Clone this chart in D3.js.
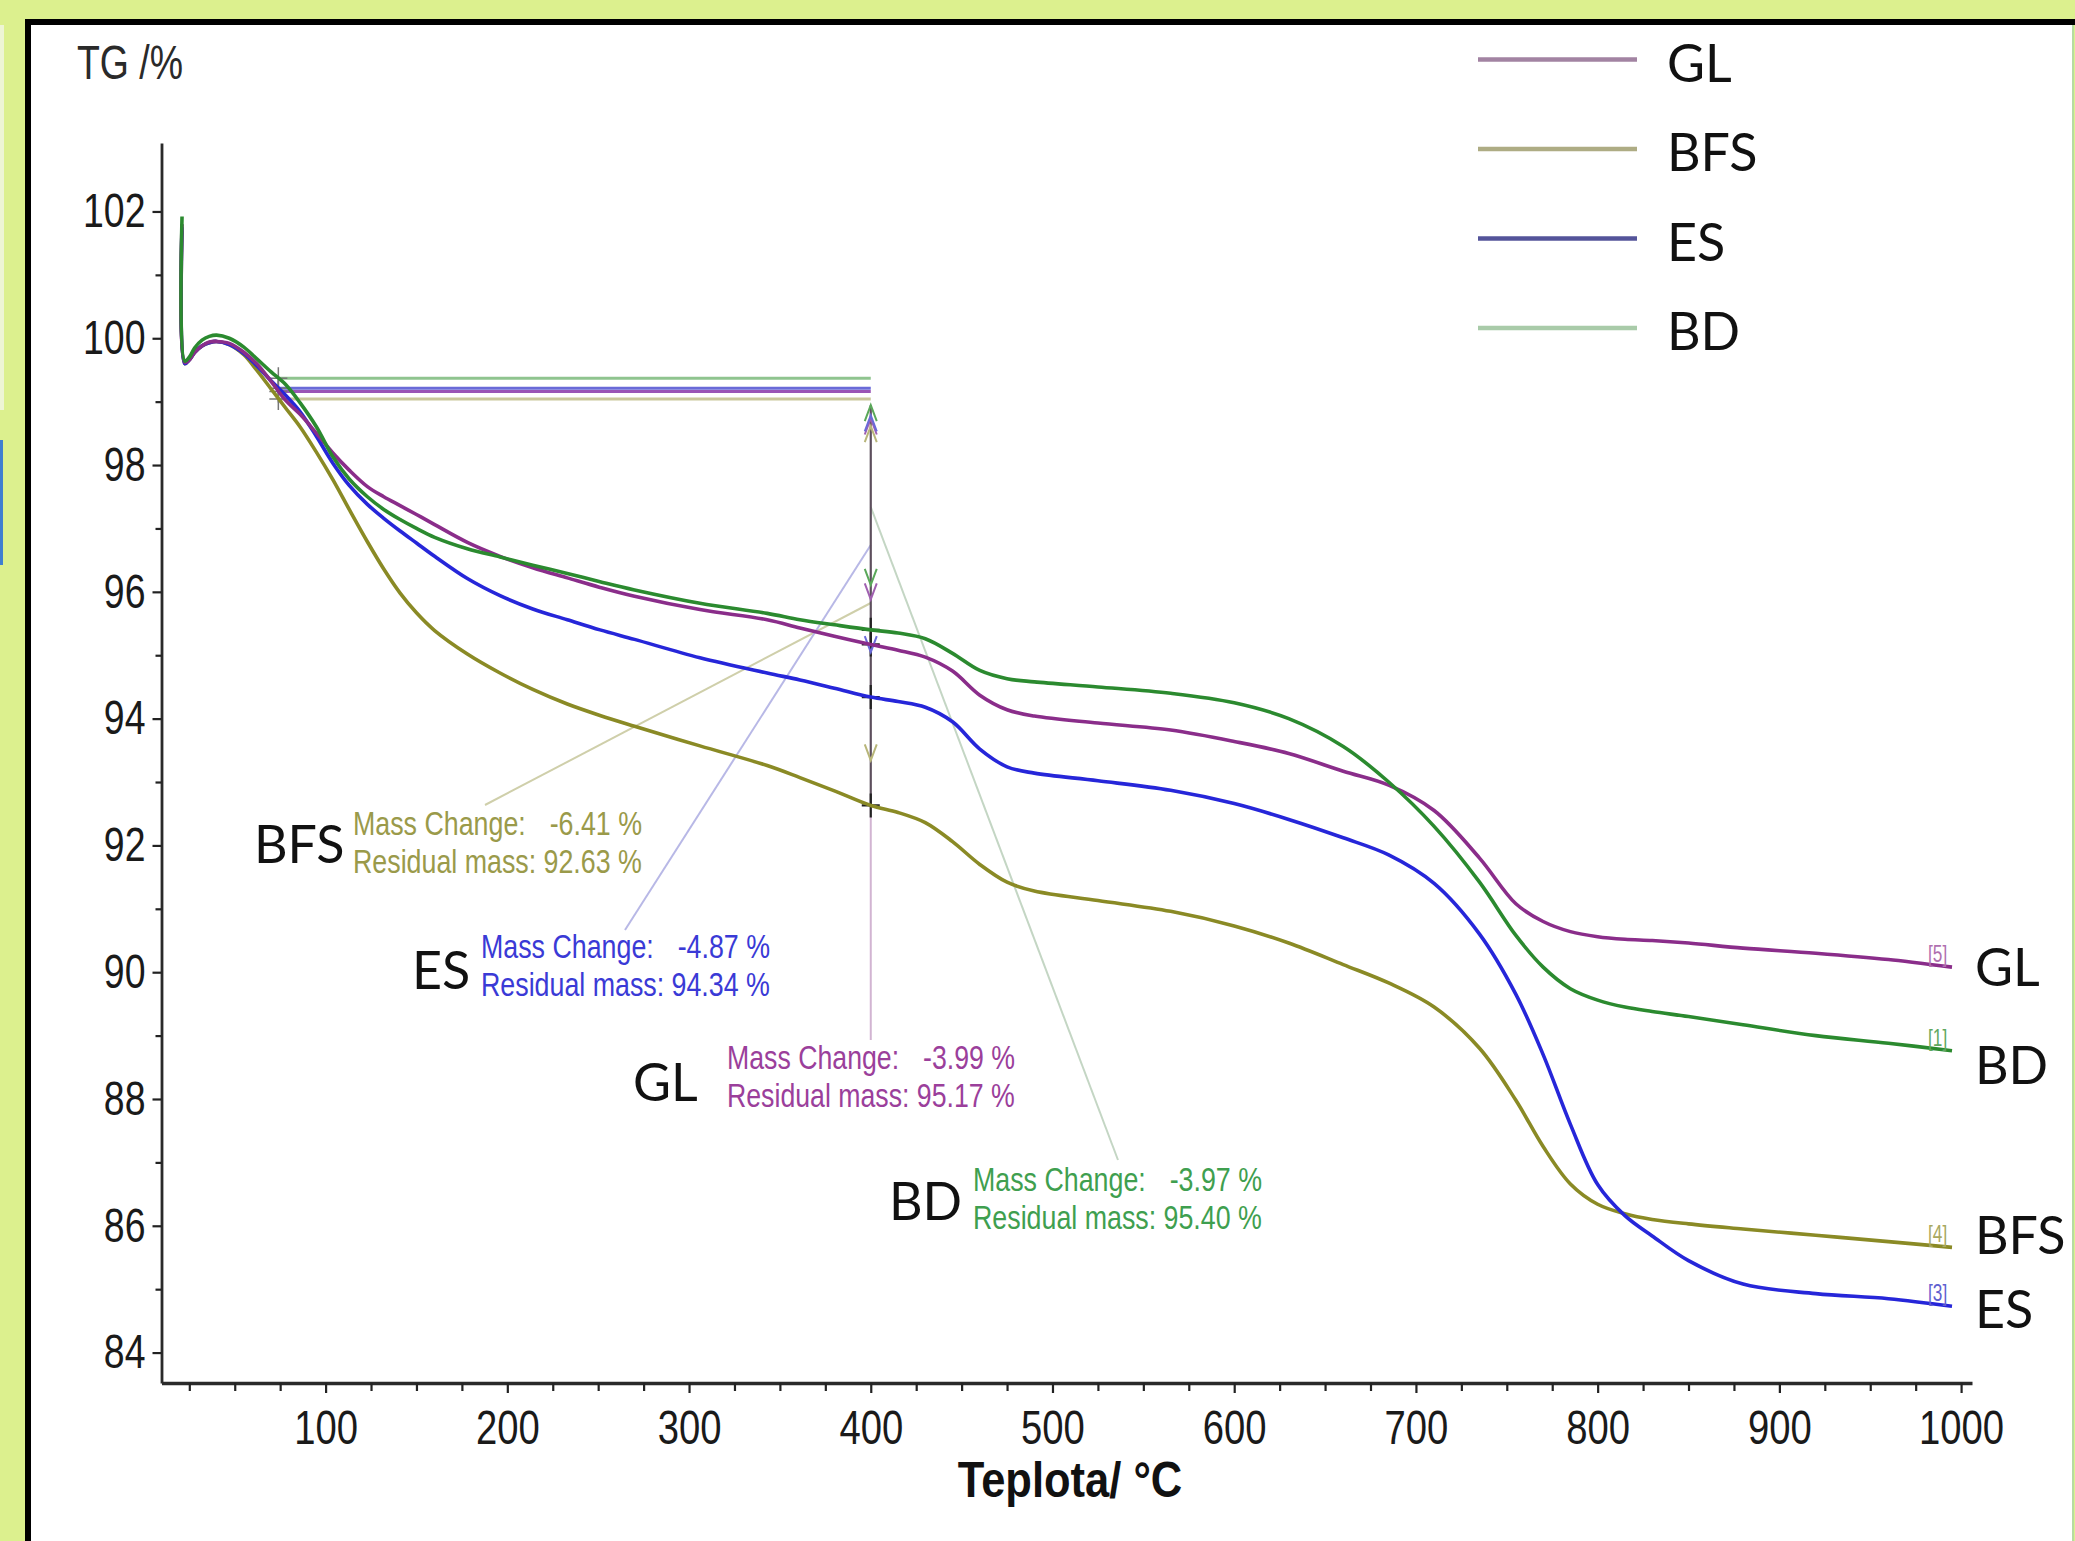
<!DOCTYPE html>
<html>
<head>
<meta charset="utf-8">
<script src="https://cdn.jsdelivr.net/npm/d3@7"></script>
<style>
  body { margin: 0; background: #dcf08e; }
  svg { display: block; }
</style>
</head>
<body>
<svg id="canvas"></svg>
<script>
// TG curves, temperature in °C, mass in %
let temps = [21, 22.5, 25, 28, 32, 36, 40, 47, 55, 62, 70, 78, 86, 95, 104, 113, 123, 132, 141, 150,
             160, 178, 196, 214, 233, 251, 270, 306, 343, 361, 380, 400, 415, 430, 445, 460, 475, 490, 525, 565,
             600, 630, 660, 685, 710, 735, 755, 770, 785, 800, 815, 830, 850, 880, 920, 960, 995]

let glMass = [101.8, 99.62, 99.66, 99.78, 99.88, 99.94, 99.95, 99.92, 99.78, 99.6, 99.32, 99.02, 98.8, 98.5, 98.19, 97.92, 97.66, 97.5, 97.36, 97.22,
              97.06, 96.78, 96.56, 96.38, 96.22, 96.07, 95.93, 95.72, 95.56, 95.43, 95.3, 95.17, 95.08, 94.97, 94.75, 94.37, 94.14, 94.04, 93.93, 93.82,
              93.64, 93.45, 93.17, 92.95, 92.55, 91.8, 91.08, 90.8, 90.64, 90.56, 90.52, 90.5, 90.46, 90.38, 90.3, 90.2, 90.08]

let bfsMass = [101.7, 99.6, 99.66, 99.78, 99.88, 99.93, 99.95, 99.9, 99.74, 99.5, 99.2, 98.9, 98.6, 98.2, 97.77, 97.3, 96.79, 96.36, 95.98, 95.67,
               95.39, 95.02, 94.72, 94.46, 94.23, 94.05, 93.88, 93.57, 93.26, 93.07, 92.86, 92.63, 92.52, 92.36, 92.06, 91.7, 91.42, 91.28, 91.13, 90.96,
               90.73, 90.46, 90.12, 89.83, 89.45, 88.8, 87.98, 87.25, 86.66, 86.34, 86.19, 86.1, 86.03, 85.95, 85.85, 85.75, 85.66]

let esMass = [101.75, 99.6, 99.66, 99.78, 99.88, 99.93, 99.95, 99.9, 99.76, 99.57, 99.33, 99.1, 98.84, 98.45, 98.03, 97.68, 97.38, 97.16, 96.96, 96.77,
              96.56, 96.21, 95.94, 95.73, 95.56, 95.4, 95.25, 94.96, 94.72, 94.61, 94.48, 94.34, 94.27, 94.18, 93.95, 93.52, 93.24, 93.14, 93.02, 92.87,
              92.66, 92.41, 92.12, 91.85, 91.4, 90.6, 89.65, 88.7, 87.6, 86.65, 86.16, 85.84, 85.45, 85.08, 84.93, 84.85, 84.73]

let bdMass = [101.92, 99.64, 99.7, 99.85, 99.97, 100.03, 100.05, 100.0, 99.86, 99.68, 99.47, 99.27, 98.98, 98.6, 98.13, 97.78, 97.5, 97.3, 97.14, 97.0,
              96.86, 96.68, 96.55, 96.42, 96.29, 96.16, 96.03, 95.82, 95.66, 95.56, 95.48, 95.4, 95.35, 95.26, 95.03, 94.76, 94.63, 94.58, 94.5, 94.4,
              94.25, 94.0, 93.56, 93.0, 92.3, 91.42, 90.58, 90.08, 89.74, 89.56, 89.45, 89.38, 89.3, 89.17, 89.0, 88.88, 88.76]

let seriesNames = ["GL", "BFS", "ES", "BD"]
let curveTags = ["[5]", "[4]", "[3]", "[1]"]
let massChange = [-3.99, -6.41, -4.87, -3.97]
let residualMass = [95.17, 92.63, 94.34, 95.40]

// step evaluation window
let stepStart = 74
let stepEnd = 400

let xTicks = [100, 200, 300, 400, 500, 600, 700, 800, 900, 1000]
let xMinorTicks = d3.range(25, 1001, 25).filter(t => t % 100 != 0)
let yTicks = [84, 86, 88, 90, 92, 94, 96, 98, 100, 102]
let yMinorTicks = [85, 87, 89, 91, 93, 95, 97, 99, 101]

let width = 2075
let height = 1541

let curveColors = ["#8a2d8a", "#8a8a25", "#2626d9", "#2b8a2f"]
let legendColors = ["#a283a2", "#aeac84", "#54549a", "#a9cba9"]
let stepColors = ["#9a55b5", "#c9c79a", "#6a6ad8", "#8fc48f"]
let arrowColors = ["#a060b0", "#b8b67a", "#6a6ad8", "#5aa85a"]
let noteColors = ["#9b3f9b", "#9a9a4a", "#3a3ad6", "#3f9f4f"]
let leaderColors = ["#d2b4d2", "#cfcfaa", "#b8b8e6", "#c4d6c4"]
let tagColors = ["#b070b0", "#a8a860", "#6060d0", "#60a860"]

let arial = "'Liberation Sans', Arial, sans-serif"
let calibri = "Lato, 'Open Sans', sans-serif"

let canvas = d3.select("#canvas")
               .attr("width", width)
               .attr("height", height)

let x = d3.scaleLinear().domain([9.7, 1006]).range([161.5, 1972])
let y = d3.scaleLinear().domain([83.52, 103.08]).range([1383, 143])

// the export squeezes its Arial text sideways
let squeezed = (parent, str, px, py, size, sx, anchor, color, weight) => {
  return parent.append("text")
               .attr("transform", `translate(${px},${py}) scale(${sx},1)`)
               .attr("text-anchor", anchor)
               .style("font-family", arial)
               .style("font-size", size + "px")
               .style("font-weight", weight || "normal")
               .attr("fill", color)
               .text(str)
}

let drawFrame = () => {
  canvas.append("rect").attr("width", width).attr("height", height).attr("fill", "#dcf08e")
  canvas.append("rect").attr("x", 0).attr("y", 25).attr("width", 4).attr("height", 385).attr("fill", "#eef5d4")
  canvas.append("rect").attr("x", 0).attr("y", 440).attr("width", 3).attr("height", 125).attr("fill", "#3f7fd0")
  canvas.append("rect").attr("x", 31).attr("y", 25).attr("width", 2041).attr("height", height - 25).attr("fill", "#ffffff")
  canvas.append("rect").attr("x", 25).attr("y", 19).attr("width", width - 25).attr("height", 6).attr("fill", "#000")
  canvas.append("rect").attr("x", 25).attr("y", 19).attr("width", 6).attr("height", height - 19).attr("fill", "#000")
  canvas.append("line").attr("x1", 2073).attr("x2", 2073).attr("y1", 25).attr("y2", height)
        .attr("stroke", "#b5dca0").attr("stroke-width", 2)
}

let drawAxes = () => {
  let xAxis = canvas.append("g")
                    .attr("transform", "translate(0,1383)")
                    .call(d3.axisBottom(x).tickValues(xTicks).tickFormat(d3.format("d"))
                            .tickSize(10).tickSizeOuter(0).tickPadding(16))
  canvas.append("g")
        .attr("transform", "translate(0,1383)")
        .call(d3.axisBottom(x).tickValues(xMinorTicks).tickSize(8).tickFormat(""))
        .call(g => g.select(".domain").remove())

  let yAxis = canvas.append("g")
                    .attr("transform", "translate(161.5,0)")
                    .call(d3.axisLeft(y).tickValues(yTicks).tickSize(9).tickSizeOuter(0))
  canvas.append("g")
        .attr("transform", "translate(161.5,0)")
        .call(d3.axisLeft(y).tickValues(yMinorTicks).tickSize(6).tickFormat(""))
        .call(g => g.select(".domain").remove())

  canvas.selectAll(".tick line").attr("stroke", "#222").attr("stroke-width", 2.2)
  xAxis.select(".domain").attr("stroke", "#2a2a2a").attr("stroke-width", 3.5)
  yAxis.select(".domain").attr("stroke", "#2a2a2a").attr("stroke-width", 2.8)

  xAxis.selectAll("text")
       .style("font-family", arial).style("font-size", "49px").attr("fill", "#1a1a1a")
       .attr("transform", "scale(0.78,1)")
  yAxis.selectAll("text")
       .style("font-family", arial).style("font-size", "48px").attr("fill", "#1a1a1a")
       .attr("x", 0)
       .attr("transform", "translate(-16,0) scale(0.78,1)")

  squeezed(canvas, "TG /%", 77, 79, 48, 0.78, "start", "#2a2a2a")
  squeezed(canvas, "Teplota/ °C", 1070, 1497, 50, 0.87, "middle", "#111", "bold")
}

let drawSteps = () => {
  let xs = x(stepStart)
  let xe = x(stepEnd)
  seriesNames.forEach((name, i) => {
    let startMass = residualMass[i] - massChange[i]
    canvas.append("line")
          .attr("x1", xs).attr("x2", xe)
          .attr("y1", y(startMass)).attr("y2", y(startMass))
          .attr("stroke", stepColors[i]).attr("stroke-width", 3)
  })

  // leader lines from the measuring line to each note
  let leaderFrom = [805, 603, 545, 507]
  let leaderTo = [[xe, 1040], [485, 805], [625, 930], [1118, 1160]]
  seriesNames.forEach((name, i) => {
    canvas.append("line")
          .attr("x1", xe).attr("y1", leaderFrom[i])
          .attr("x2", leaderTo[i][0]).attr("y2", leaderTo[i][1])
          .attr("stroke", leaderColors[i]).attr("stroke-width", 2)
  })

  // shared measuring line, dark where the four arrows overlap
  let topMass = d3.max(seriesNames.map((n, i) => residualMass[i] - massChange[i]))
  canvas.append("line")
        .attr("x1", xe).attr("x2", xe)
        .attr("y1", y(topMass) + 27).attr("y2", y(d3.min(residualMass)))
        .attr("stroke", "#5d4f5d").attr("stroke-width", 2.2)

  seriesNames.forEach((name, i) => {
    let startMass = residualMass[i] - massChange[i]
    let top = y(startMass) + 27
    let bottom = y(residualMass[i])
    canvas.append("path")
          .attr("d", `M${xe - 6},${top + 16}L${xe},${top}L${xe + 6},${top + 16}`)
          .attr("fill", "none").attr("stroke", arrowColors[i]).attr("stroke-width", 2)
    let tip = bottom - 45
    canvas.append("path")
          .attr("d", `M${xe - 6},${tip - 16}L${xe},${tip}L${xe + 6},${tip - 16}`)
          .attr("fill", "none").attr("stroke", arrowColors[i]).attr("stroke-width", 2)
    // start cross
    canvas.append("path")
          .attr("d", `M${xs - 9},${y(startMass)}H${xs + 9}M${xs},${y(startMass) - 11}V${y(startMass) + 11}`)
          .attr("stroke", "#777").attr("stroke-width", 1.5)
    // residual cross
    canvas.append("path")
          .attr("d", `M${xe - 9},${bottom}H${xe + 9}M${xe},${bottom - 12}V${bottom + 12}`)
          .attr("stroke", "#222").attr("stroke-width", 2.2)
  })
}

let drawCurves = () => {
  let seriesMass = [glMass, bfsMass, esMass, bdMass]
  let line = d3.line()
               .x(d => x(d[0]))
               .y(d => y(d[1]))
               .curve(d3.curveCatmullRom.alpha(0.5))
  let order = [1, 2, 0, 3]
  order.forEach(i => {
    canvas.append("path")
          .datum(temps.map((t, k) => [t, seriesMass[i][k]]))
          .attr("d", line)
          .attr("fill", "none")
          .attr("stroke", curveColors[i])
          .attr("stroke-width", 3.6)
          .attr("stroke-linejoin", "round")
  })

  // curve tags and names at the right end
  let endOffset = [0, -12, 3, 14]
  let lastT = temps[temps.length - 1]
  order.forEach(i => {
    let endMass = seriesMass[i][seriesMass[i].length - 1]
    squeezed(canvas, curveTags[i], x(lastT) - 24, y(endMass) - 5, 23, 0.75, "start", tagColors[i])
    canvas.append("text")
          .attr("x", 1975)
          .attr("y", y(endMass) + endOffset[i] + 19)
          .style("font-family", calibri)
          .style("font-size", "52px")
          .attr("fill", "#111")
          .text(seriesNames[i])
  })
}

let drawNotes = () => {
  let nameX = [633, 254, 412, 889]
  let nameY = [1101, 863, 989, 1220]
  let blockLeft = [727, 353, 481, 973]
  let blockRight = [1015, 642, 770, 1262]
  let blockTop = [1069, 835, 958, 1191]
  seriesNames.forEach((name, i) => {
    canvas.append("text")
          .attr("x", nameX[i]).attr("y", nameY[i])
          .style("font-family", calibri).style("font-size", "52px")
          .attr("fill", "#111")
          .text(name)
    let line2 = squeezed(canvas, "Residual mass:  " + residualMass[i].toFixed(2) + " %",
                         blockLeft[i], blockTop[i] + 38, 33, 1, "start", noteColors[i])
    let sx = (blockRight[i] - blockLeft[i]) / line2.node().getComputedTextLength()
    line2.attr("transform", `translate(${blockLeft[i]},${blockTop[i] + 38}) scale(${sx},1)`)
    squeezed(canvas, "Mass Change:", blockLeft[i], blockTop[i], 33, sx, "start", noteColors[i])
    squeezed(canvas, massChange[i].toFixed(2) + " %", blockRight[i], blockTop[i], 33, sx, "end", noteColors[i])
  })
}

let drawLegend = () => {
  seriesNames.forEach((name, i) => {
    let ly = 59.5 + i * 89.5
    canvas.append("line")
          .attr("x1", 1478).attr("x2", 1637).attr("y1", ly).attr("y2", ly)
          .attr("stroke", legendColors[i]).attr("stroke-width", 4.5)
    canvas.append("text")
          .attr("x", 1667).attr("y", ly + 22)
          .style("font-family", calibri).style("font-size", "52px")
          .attr("fill", "#111")
          .text(name)
  })
}

drawFrame()
drawAxes()
drawSteps()
drawCurves()
drawNotes()
drawLegend()
</script>
</body>
</html>
